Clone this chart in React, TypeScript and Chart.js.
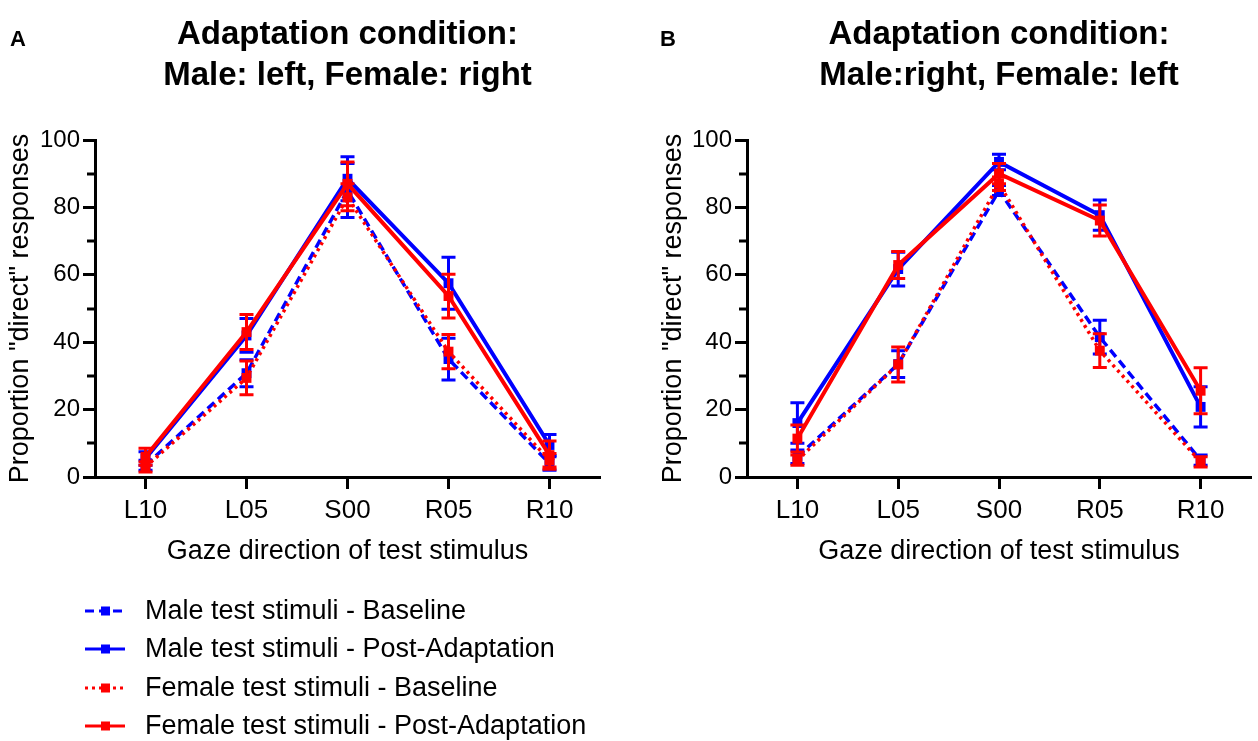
import React, { useEffect, useRef } from 'react';
import { Chart, registerables } from 'chart.js';

Chart.register(...registerables);

// ---------- data ----------
const CATEGORIES = ['L10', 'L05', 'S00', 'R05', 'R10'];
const SERIES_LABELS = [
  'Male test stimuli - Baseline',
  'Male test stimuli - Post-Adaptation',
  'Female test stimuli - Baseline',
  'Female test stimuli - Post-Adaptation',
];
const Y_MIN = 0;
const Y_MAX = 100;
const Y_MAJOR_STEP = 20;
const Y_MINOR_TICKS = [10, 30, 50, 70, 90];

const TITLE_A = ['Adaptation condition:', 'Male: left, Female: right'];
const TITLE_B = ['Adaptation condition:', 'Male:right, Female: left'];
const Y_TITLE = 'Proportion "direct" responses';
const X_TITLE = 'Gaze direction of test stimulus';

const A_MALE_BASE = [3.5, 30.8, 85, 35, 4];
const A_MALE_BASE_ERR = [1.5, 4, 8, 6.2, 2];
const A_MALE_POST = [5.5, 42, 88.5, 57.5, 9.5];
const A_MALE_POST_ERR = [2, 5, 6.5, 7.7, 3.1];
const A_FEMALE_BASE = [3, 29.4, 83, 37.2, 5];
const A_FEMALE_BASE_ERR = [1.5, 5, 4, 5.1, 2];
const A_FEMALE_POST = [6, 43, 87, 53.7, 6.5];
const A_FEMALE_POST_ERR = [2.5, 5.2, 6.5, 6.5, 4.2];

const B_MALE_BASE = [6, 33.5, 85, 41.5, 5];
const B_MALE_BASE_ERR = [2, 4, 1.5, 5, 1.5];
const B_MALE_POST = [16, 61.7, 93.5, 77.7, 20.8];
const B_MALE_POST_ERR = [6, 5, 2.3, 4.5, 6];
const B_FEMALE_BASE = [5, 33.4, 87, 37.5, 4.5];
const B_FEMALE_BASE_ERR = [1.5, 5.2, 2, 5, 1.5];
const B_FEMALE_POST = [11.4, 62.9, 90, 76.1, 25.6];
const B_FEMALE_POST_ERR = [4, 4, 3, 4.6, 6.8];

// ---------- styles ----------
const FONT = '"Liberation Sans", Arial, Helvetica, sans-serif';
const BLUE = '#0000ff';
const RED = '#ff0000';
const SERIES_STYLE = [
  { color: BLUE, dash: [9, 5], width: 3.5, order: 4 },
  { color: BLUE, dash: [] as number[], width: 4, order: 3 },
  { color: RED, dash: [3, 4], width: 3.5, order: 2 },
  { color: RED, dash: [] as number[], width: 4, order: 1 },
];

const W = 629;
const H = 741;

const errorBarPlugin = {
  id: 'errorBars',
  afterDatasetDraw(chart: any, args: any) {
    const ds = chart.data.datasets[args.index];
    const errs: number[] | undefined = ds.errors;
    if (!errs) return;
    const y = chart.scales.y;
    const ctx = chart.ctx;
    ctx.save();
    ctx.strokeStyle = ds.borderColor;
    ctx.lineWidth = 3;
    ctx.setLineDash([]);
    args.meta.data.forEach((pt: any, i: number) => {
      const v = ds.data[i];
      const e = errs[i];
      const x = pt.x;
      const yt = y.getPixelForValue(v + e);
      const yb = y.getPixelForValue(v - e);
      ctx.beginPath();
      ctx.moveTo(x, yt);
      ctx.lineTo(x, yb);
      ctx.moveTo(x - 7, yt);
      ctx.lineTo(x + 7, yt);
      ctx.moveTo(x - 7, yb);
      ctx.lineTo(x + 7, yb);
      ctx.stroke();
    });
    ctx.restore();
  },
};

const minorTickPlugin = {
  id: 'minorTicks',
  afterDraw(chart: any) {
    const y = chart.scales.y;
    const ctx = chart.ctx;
    const left = chart.chartArea.left;
    ctx.save();
    ctx.strokeStyle = '#000';
    ctx.lineWidth = 3;
    Y_MINOR_TICKS.forEach((v) => {
      const py = Math.round(y.getPixelForValue(v));
      ctx.beginPath();
      ctx.moveTo(left, py);
      ctx.lineTo(left - 8, py);
      ctx.stroke();
    });
    ctx.restore();
  },
};

const panelTextPlugin = {
  id: 'panelText',
  afterDraw(chart: any, _args: any, opts: any) {
    const ctx = chart.ctx;
    const ca = chart.chartArea;
    const cx = (ca.left + ca.right) / 2;
    ctx.save();
    ctx.fillStyle = '#000';
    ctx.textBaseline = 'alphabetic';
    ctx.font = `bold 33px ${FONT}`;
    ctx.textAlign = 'center';
    (opts.lines as string[]).forEach((t, i) => ctx.fillText(t, cx, 44 + i * 41));
    ctx.font = `bold 22px ${FONT}`;
    ctx.textAlign = 'left';
    ctx.fillText(opts.letter, opts.letterX, 46);
    ctx.restore();
  },
};

const legendPlugin = {
  id: 'customLegend',
  afterDraw(chart: any, _args: any, opts: any) {
    if (!opts || !opts.show) return;
    const ctx = chart.ctx;
    const rows = [611, 649, 688, 726];
    ctx.save();
    chart.data.datasets.forEach((ds: any, i: number) => {
      const y = rows[i];
      ctx.strokeStyle = ds.borderColor;
      ctx.lineWidth = 3;
      ctx.setLineDash(ds.borderDash || []);
      ctx.beginPath();
      ctx.moveTo(85, y);
      ctx.lineTo(125, y);
      ctx.stroke();
      ctx.setLineDash([]);
      ctx.fillStyle = ds.borderColor;
      ctx.fillRect(101, y - 4.5, 9, 9);
      ctx.fillStyle = '#000';
      ctx.font = `27px ${FONT}`;
      ctx.textAlign = 'left';
      ctx.textBaseline = 'middle';
      ctx.fillText(ds.label, 145, y + 1);
    });
    ctx.restore();
  },
};

type PanelProps = {
  series: number[][];
  errors: number[][];
  title: string[];
  letter: string;
  letterX: number;
  padLeft: number;
  padRight: number;
  yWidth: number;
  legend: boolean;
};

function Panel(p: PanelProps) {
  const ref = useRef<HTMLCanvasElement | null>(null);
  useEffect(() => {
    if (!ref.current) return;
    const chart = new Chart(ref.current, {
      type: 'line',
      data: {
        labels: CATEGORIES,
        datasets: p.series.map((vals, i) => ({
          label: SERIES_LABELS[i],
          data: vals,
          errors: p.errors[i],
          borderColor: SERIES_STYLE[i].color,
          backgroundColor: SERIES_STYLE[i].color,
          borderDash: SERIES_STYLE[i].dash,
          borderWidth: SERIES_STYLE[i].width,
          order: SERIES_STYLE[i].order,
          pointStyle: 'rect',
          pointRadius: 7,
          pointBorderWidth: 0,
          pointBackgroundColor: SERIES_STYLE[i].color,
          tension: 0,
          fill: false,
        })) as any,
      },
      options: {
        animation: false,
        responsive: false,
        devicePixelRatio: 1,
        events: [],
        layout: {
          padding: { top: 140, bottom: 164, left: p.padLeft, right: p.padRight },
        },
        plugins: {
          legend: { display: false },
          tooltip: { enabled: false },
          title: { display: false },
          panelText: { lines: p.title, letter: p.letter, letterX: p.letterX },
          customLegend: { show: p.legend },
        } as any,
        scales: {
          x: {
            type: 'category',
            offset: true,
            grid: {
              offset: false,
              drawOnChartArea: false,
              drawTicks: true,
              tickLength: 12,
              tickWidth: 3,
              tickColor: '#000',
            },
            border: { display: true, color: '#000', width: 3 },
            ticks: {
              color: '#000',
              font: { size: 26, family: FONT },
              padding: 6,
              maxRotation: 0,
              autoSkip: false,
            },
            title: {
              display: true,
              text: X_TITLE,
              color: '#000',
              font: { size: 27, family: FONT },
              padding: { top: 4, bottom: 9 },
            },
            afterFit: (s: any) => {
              s.height = 100;
            },
          },
          y: {
            type: 'linear',
            min: Y_MIN,
            max: Y_MAX,
            grid: {
              drawOnChartArea: false,
              drawTicks: true,
              tickLength: 12,
              tickWidth: 3,
              tickColor: '#000',
            },
            border: { display: true, color: '#000', width: 3 },
            ticks: {
              stepSize: Y_MAJOR_STEP,
              color: '#000',
              font: { size: 24, family: FONT },
              padding: 3,
            },
            title: {
              display: true,
              text: Y_TITLE,
              color: '#000',
              font: { size: 27, family: FONT },
              padding: { top: 4, bottom: 4 },
            },
            afterFit: (s: any) => {
              s.width = p.yWidth;
            },
          },
        },
      } as any,
      plugins: [errorBarPlugin, minorTickPlugin, panelTextPlugin, legendPlugin],
    });
    return () => chart.destroy();
  }, []);
  return <canvas ref={ref} width={W} height={H} style={{ width: W, height: H, display: 'block' }} />;
}

export default function App() {
  return (
    <div style={{ position: 'absolute', left: 0, top: 0, width: 1258, height: 741, background: '#fff', display: 'flex' }}>
      <Panel
        series={[A_MALE_BASE, A_MALE_POST, A_FEMALE_BASE, A_FEMALE_POST]}
        errors={[A_MALE_BASE_ERR, A_MALE_POST_ERR, A_FEMALE_BASE_ERR, A_FEMALE_POST_ERR]}
        title={TITLE_A}
        letter="A"
        letterX={10}
        padLeft={0}
        padRight={29}
        yWidth={95}
        legend={true}
      />
      <Panel
        series={[B_MALE_BASE, B_MALE_POST, B_FEMALE_BASE, B_FEMALE_POST]}
        errors={[B_MALE_BASE_ERR, B_MALE_POST_ERR, B_FEMALE_BASE_ERR, B_FEMALE_POST_ERR]}
        title={TITLE_B}
        letter="B"
        letterX={31}
        padLeft={24}
        padRight={5}
        yWidth={94}
        legend={false}
      />
    </div>
  );
}
